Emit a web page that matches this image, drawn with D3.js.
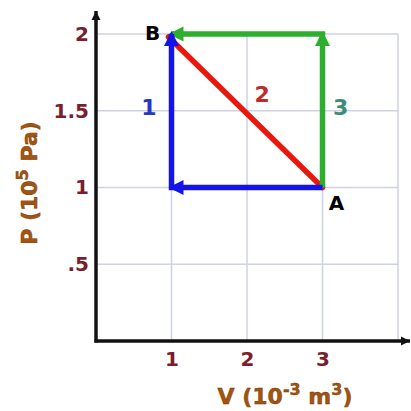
<!DOCTYPE html>
<html>
<head>
<meta charset="utf-8">
<script src="https://cdn.jsdelivr.net/npm/d3@7"></script>
<style>
  body { margin: 0; background: #fff; }
  svg { display: block; font-family: "DejaVu Sans", Arial, sans-serif; }
</style>
</head>
<body>
<svg width="411" height="411"></svg>
<script>
// chart data
var xTicks = [1, 2, 3];
var xGrid = [1, 2, 3, 4];
var yTicks = [0.5, 1, 1.5, 2];
var yTickLabels = [".5", "1", "1.5", "2"];

var pointA = [3, 1];
var pointB = [1, 2];

// process paths (V, P)
var process1 = [[3, 1], [1, 1], [1, 2]];
var process2 = [[3, 1], [1, 2]];
var process3 = [[3, 1], [3, 2], [1, 2]];

var processLabels = [
  { text: "1", v: 0.7, p: 1.52, color: "#2736c4" },
  { text: "2", v: 2.2, p: 1.61, color: "#c22a2a" },
  { text: "3", v: 3.24, p: 1.52, color: "#3a8c78" }
];

var svg = d3.select("svg");

var x = d3.scaleLinear().domain([0, 4]).range([96, 398]);
var y = d3.scaleLinear().domain([0, 2]).range([341, 34]);

// arrowhead markers
function addMarker(id, color, d) {
  svg.append("defs").append("marker")
    .attr("id", id)
    .attr("markerUnits", "userSpaceOnUse")
    .attr("viewBox", "0 -8 16 16")
    .attr("refX", 14)
    .attr("refY", 0)
    .attr("markerWidth", 16)
    .attr("markerHeight", 16)
    .attr("orient", "auto")
    .append("path")
    .attr("d", d)
    .attr("fill", color);
}
addMarker("arrBlue", "#1414e6", "M0,-7.5L15,0L0,7.5Z");
addMarker("arrGreen", "#2eae2e", "M0,-7.5L15,0L0,7.5Z");
addMarker("arrBlack", "#111", "M5,-4.5L14,0L5,4.5Z");

// grid
var grid = svg.append("g").attr("stroke", "#cfd2e2").attr("stroke-width", 1.5);
grid.selectAll(".gx")
  .data(xGrid)
  .enter()
  .append("line")
  .attr("x1", function (d) { return x(d) })
  .attr("x2", function (d) { return x(d) })
  .attr("y1", y(0))
  .attr("y2", y(2));
grid.selectAll(".gy")
  .data(yTicks)
  .enter()
  .append("line")
  .attr("x1", x(0))
  .attr("x2", x(4))
  .attr("y1", function (d) { return y(d) })
  .attr("y2", function (d) { return y(d) });

// axes
var xAxis = svg.append("g")
  .attr("transform", "translate(0," + y(0) + ")")
  .call(d3.axisBottom(x).tickValues(xTicks).tickSize(0).tickPadding(11).tickFormat(d3.format("d")));
var yAxis = svg.append("g")
  .attr("transform", "translate(" + x(0) + ",0)")
  .call(d3.axisLeft(y).tickValues(yTicks).tickSize(0).tickPadding(7)
    .tickFormat(function (d, i) { return yTickLabels[i] }));

[xAxis, yAxis].forEach(function (a) {
  a.select(".domain").remove();
  a.selectAll("text")
    .attr("fill", "#7a1e2e")
    .style("font-family", "'DejaVu Sans', Arial, sans-serif")
    .style("font-size", "20px")
    .style("font-weight", "bold");
});

svg.append("line")
  .attr("x1", x(0) - 1.5).attr("x2", 410)
  .attr("y1", y(0)).attr("y2", y(0))
  .attr("stroke", "#111").attr("stroke-width", 3.5)
  .attr("marker-end", "url(#arrBlack)");
svg.append("line")
  .attr("x1", x(0)).attr("x2", x(0))
  .attr("y1", y(0) + 1.5).attr("y2", 11)
  .attr("stroke", "#111").attr("stroke-width", 3.5)
  .attr("marker-end", "url(#arrBlack)");

// process 2 (red straight line)
svg.append("line")
  .attr("x1", x(process2[0][0])).attr("y1", y(process2[0][1]))
  .attr("x2", x(process2[1][0]) - 3).attr("y2", y(process2[1][1]) + 3)
  .attr("stroke", "#e8180e").attr("stroke-width", 5.5)
  .attr("stroke-linecap", "round");

// segmented processes with arrows at each segment end
function drawProcess(pts, color, marker) {
  var g = svg.append("g");
  g.append("path")
    .attr("d", d3.line().x(function (d) { return x(d[0]) }).y(function (d) { return y(d[1]) })(pts))
    .attr("fill", "none").attr("stroke", color).attr("stroke-width", 5.5)
    .attr("stroke-linejoin", "miter");
  for (var i = 1; i < pts.length; i++) {
    var p0 = pts[i - 1], p1 = pts[i];
    var x0 = x(p0[0]), y0 = y(p0[1]), x1 = x(p1[0]), y1 = y(p1[1]);
    var dx = x1 - x0, dy = y1 - y0, len = Math.sqrt(dx * dx + dy * dy);
    g.append("line")
      .attr("x1", x1 - dx / len * 20).attr("y1", y1 - dy / len * 20)
      .attr("x2", x1 + dx / len * 2).attr("y2", y1 + dy / len * 2)
      .attr("stroke", "none")
      .attr("marker-end", "url(#" + marker + ")");
  }
}
drawProcess(process3, "#2eae2e", "arrGreen");
drawProcess(process1, "#1414e6", "arrBlue");

// process numbers
svg.selectAll(".plabel")
  .data(processLabels)
  .enter()
  .append("text")
  .attr("x", function (d) { return x(d.v) })
  .attr("y", function (d) { return y(d.p) })
  .attr("dy", "0.35em")
  .attr("text-anchor", "middle")
  .attr("fill", function (d) { return d.color })
  .style("font-size", "22px")
  .style("font-weight", "bold")
  .text(function (d) { return d.text });

// state labels
svg.append("text")
  .attr("x", x(pointB[0]) - 19).attr("y", y(pointB[1]) - 1)
  .attr("dy", "0.35em").attr("text-anchor", "middle")
  .style("font-size", "20px").style("font-weight", "bold")
  .text("B");
svg.append("text")
  .attr("x", x(pointA[0]) + 14).attr("y", y(pointA[1]) + 15)
  .attr("dy", "0.35em").attr("text-anchor", "middle")
  .style("font-size", "20px").style("font-weight", "bold")
  .text("A");

// axis titles
var xTitle = svg.append("text")
  .attr("x", 285).attr("y", 404)
  .attr("text-anchor", "middle")
  .attr("fill", "#a4540e").attr("stroke", "#6a3000").attr("stroke-width", 0.4)
  .style("font-size", "22px").style("font-weight", "bold");
xTitle.append("tspan").text("V (10");
xTitle.append("tspan").attr("dy", -9).style("font-size", "16px").text("-3");
xTitle.append("tspan").attr("dy", 9).text(" m");
xTitle.append("tspan").attr("dy", -9).style("font-size", "16px").text("3");
xTitle.append("tspan").attr("dy", 9).text(")");

var yTitle = svg.append("text")
  .attr("transform", "translate(37,183) rotate(-90)")
  .attr("text-anchor", "middle")
  .attr("fill", "#a4540e").attr("stroke", "#6a3000").attr("stroke-width", 0.4)
  .style("font-size", "22px").style("font-weight", "bold");
yTitle.append("tspan").text("P (10");
yTitle.append("tspan").attr("dy", -9).style("font-size", "16px").text("5");
yTitle.append("tspan").attr("dy", 9).text(" Pa)");
</script>
</body>
</html>
